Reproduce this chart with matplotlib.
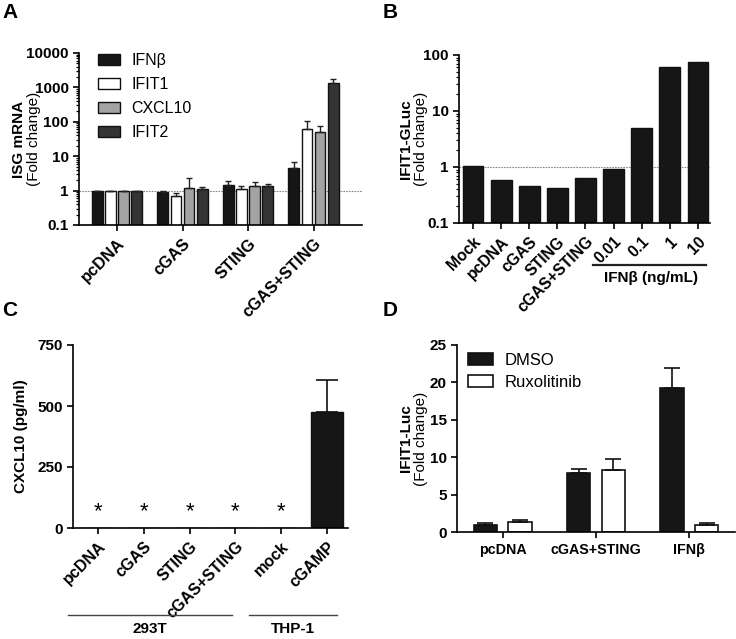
import numpy as np
import matplotlib
matplotlib.use("Agg")
import matplotlib.pyplot as plt
from matplotlib.lines import Line2D
from matplotlib.ticker import LogLocator, NullFormatter

plt.rcParams['font.family'] = ['Liberation Sans', 'DejaVu Sans']
plt.rcParams['axes.linewidth'] = 1.2
plt.rcParams['xtick.major.width'] = 1.2
plt.rcParams['ytick.major.width'] = 1.2
plt.rcParams['xtick.major.size'] = 4
plt.rcParams['ytick.major.size'] = 4
plt.rcParams['ytick.minor.size'] = 2.5
plt.rcParams['ytick.minor.width'] = 0.9

# ---- panel A data ----
a_groups = ['pcDNA', 'cGAS', 'STING', 'cGAS+STING']
a_series = ['IFNβ', 'IFIT1', 'CXCL10', 'IFIT2']
a_colors = ['#161616', 'white', '#a3a3a3', '#343434']
a_vals = [[1.0, 0.9, 1.45, 4.4],
          [1.0, 0.7, 1.1, 62],
          [1.0, 1.2, 1.35, 50],
          [1.0, 1.1, 1.4, 1380]]
a_errtop = [[1.0, 0.95, 1.85, 6.6],
            [1.0, 0.85, 1.4, 103],
            [1.0, 2.3, 1.75, 75],
            [1.0, 1.25, 1.6, 1750]]

# ---- panel B data ----
b_labels = ['Mock', 'pcDNA', 'cGAS', 'STING', 'cGAS+STING', '0.01', '0.1', '1', '10']
b_vals = [1.04, 0.58, 0.46, 0.42, 0.64, 0.91, 4.9, 60, 74]

# ---- panel C data ----
c_labels = ['pcDNA', 'cGAS', 'STING', 'cGAS+STING', 'mock', 'cGAMP']
c_vals = [0, 0, 0, 0, 0, 475]
c_err = [0, 0, 0, 0, 0, 130]
c_star = [True, True, True, True, True, False]

# ---- panel D data ----
d_groups = ['pcDNA', 'cGAS+STING', 'IFNβ']
d_dmso = [1.0, 7.9, 19.2]
d_dmso_err = [0.2, 0.5, 2.7]
d_rux = [1.3, 8.3, 1.0]
d_rux_err = [0.3, 1.5, 0.15]

fig = plt.figure(figsize=(7.36, 6.39), dpi=100)
W, H = 736, 639
FS = 11


def px_axes(l, t, r, b):
    return fig.add_axes([l / W, 1 - b / H, (r - l) / W, (b - t) / H])


def style(ax, xsize=FS):
    for s in ['top', 'right']:
        ax.spines[s].set_visible(False)
    ax.tick_params(axis='y', labelsize=FS, direction='out')
    ax.tick_params(axis='x', labelsize=xsize, direction='out', pad=4)
    for lab in ax.get_xticklabels() + ax.get_yticklabels():
        lab.set_fontweight('bold')


def logminor(ax):
    ax.yaxis.set_minor_locator(LogLocator(base=10, subs=np.arange(2, 10), numticks=20))
    ax.yaxis.set_minor_formatter(NullFormatter())


def ylab(ax, first, second, cx1, cx2):
    yc = (ax.get_position().y0 + ax.get_position().y1) / 2
    fig.text(cx1 / W, yc, first, rotation=90, ha='center', va='center',
             fontsize=FS, fontweight='bold')
    if second:
        fig.text(cx2 / W, yc, second, rotation=90, ha='center', va='center',
                 fontsize=FS)


# ---------- A ----------
axA = px_axes(79, 53, 362, 225)
x = np.arange(len(a_groups))
pitch = 0.2
for i, name in enumerate(a_series):
    xs = x + (i - 1.5) * pitch
    axA.bar(xs, a_vals[i], width=0.165, color=a_colors[i], edgecolor='#111',
            linewidth=1.0, label=name, zorder=2)
    up = np.array(a_errtop[i]) - np.array(a_vals[i])
    axA.errorbar(xs, a_vals[i], yerr=[np.zeros_like(up), up], fmt='none',
                 ecolor='#222', elinewidth=1.0, capsize=2.5, capthick=1.0, zorder=3)
axA.set_yscale('log')
axA.set_ylim(0.1, 10000)
axA.set_xlim(-0.58, 3.74)
axA.axhline(1, color='#888', lw=0.8, ls=(0, (1.5, 1)), zorder=1)
axA.set_yticks([0.1, 1, 10, 100, 1000, 10000])
axA.set_yticklabels(['0.1', '1', '10', '100', '1000', '10000'])
logminor(axA)
axA.set_xticks(x)
axA.set_xticklabels(a_groups, rotation=45, ha='right', rotation_mode='anchor')
style(axA, 11.8)
axA.legend(loc='upper left', bbox_to_anchor=(0.046, 1.035), borderaxespad=0,
           frameon=False, fontsize=11.5, handlelength=1.35, handleheight=0.7,
           labelspacing=0.55, handletextpad=0.7)
ylab(axA, 'ISG mRNA', '(Fold change)', 19, 34)

# ---------- B ----------
axB = px_axes(459, 55, 710, 223)
xb = np.arange(len(b_labels))
axB.bar(xb, b_vals, width=0.74, color='#161616', edgecolor='#111', zorder=2)
axB.set_yscale('log')
axB.set_ylim(0.1, 100)
axB.set_xlim(-0.5, 8.43)
axB.axhline(1, color='#888', lw=0.8, ls=(0, (1.5, 1)), zorder=1)
axB.set_yticks([0.1, 1, 10, 100])
axB.set_yticklabels(['0.1', '1', '10', '100'])
logminor(axB)
axB.set_xticks(xb)
axB.set_xticklabels(b_labels, rotation=45, ha='right', rotation_mode='anchor')
style(axB, 11.3)
ylab(axB, 'IFIT1-GLuc', '(Fold change)', 406, 421)
fig.add_artist(Line2D([593 / W, 706 / W], [1 - 265 / H, 1 - 265 / H], color='#222', lw=1.6))
fig.text(651 / W, 1 - 278 / H, 'IFNβ (ng/mL)', ha='center', va='center',
         fontsize=FS, fontweight='bold')

# ---------- C ----------
axC = px_axes(73, 345, 348, 528)
xc = np.arange(len(c_labels))
axC.bar(xc, c_vals, width=0.7, color='#161616', edgecolor='#111', zorder=2)
axC.errorbar(xc[-1:], c_vals[-1:], yerr=[[0], c_err[-1:]], fmt='none', ecolor='#111',
             elinewidth=1.2, capsize=8, capthick=1.2)
for xi, s in zip(xc, c_star):
    if s:
        axC.text(xi, 25, '*', ha='center', va='bottom', fontsize=16)
axC.set_ylim(0, 750)
axC.set_xlim(-0.55, 5.46)
axC.set_yticks([0, 250, 500, 750])
axC.set_xticks(xc)
axC.set_xticklabels(c_labels, rotation=45, ha='right', rotation_mode='anchor')
style(axC, 11.5)
ylab(axC, 'CXCL10 (pg/ml)', None, 21, 0)
fig.add_artist(Line2D([68 / W, 232 / W], [1 - 615 / H, 1 - 615 / H], color='#444', lw=1.0))
fig.add_artist(Line2D([249 / W, 337 / W], [1 - 615 / H, 1 - 615 / H], color='#444', lw=1.0))
fig.text(150 / W, 1 - 629 / H, '293T', ha='center', va='center', fontsize=FS, fontweight='bold')
fig.text(293 / W, 1 - 629 / H, 'THP-1', ha='center', va='center', fontsize=FS, fontweight='bold')

# ---------- D ----------
axD = px_axes(457, 345, 735, 532)
xd = np.arange(len(d_groups))
off = 0.185
axD.bar(xd - off, d_dmso, width=0.25, color='#161616', edgecolor='#111', lw=1.2,
        label='DMSO', zorder=2)
axD.bar(xd + off, d_rux, width=0.25, color='white', edgecolor='#111', lw=1.2,
        label='Ruxolitinib', zorder=2)
axD.errorbar(xd - off, d_dmso, yerr=[np.zeros(3), d_dmso_err], fmt='none', ecolor='#111',
             elinewidth=1.2, capsize=6, capthick=1.2)
axD.errorbar(xd + off, d_rux, yerr=[np.zeros(3), d_rux_err], fmt='none', ecolor='#111',
             elinewidth=1.2, capsize=6, capthick=1.2)
axD.set_ylim(0, 25)
axD.set_xlim(-0.49, 2.49)
axD.set_yticks([0, 5, 10, 15, 20, 25])
axD.set_xticks(xd)
axD.set_xticklabels(d_groups)
style(axD, 10.3)
axD.legend(loc='upper left', bbox_to_anchor=(0.014, 0.995), borderaxespad=0,
           frameon=False, fontsize=12, handlelength=1.5, handleheight=0.75,
           labelspacing=0.45, handletextpad=0.7)
ylab(axD, 'IFIT1-Luc', '(Fold change)', 406, 421)

# panel letters
for lt, px, py in [('A', 2, 12), ('B', 383, 12), ('C', 2, 310), ('D', 383, 310)]:
    fig.text(px / W, 1 - py / H, lt, ha='left', va='center', fontsize=15, fontweight='bold')

fig.savefig('out.png', dpi=100)
